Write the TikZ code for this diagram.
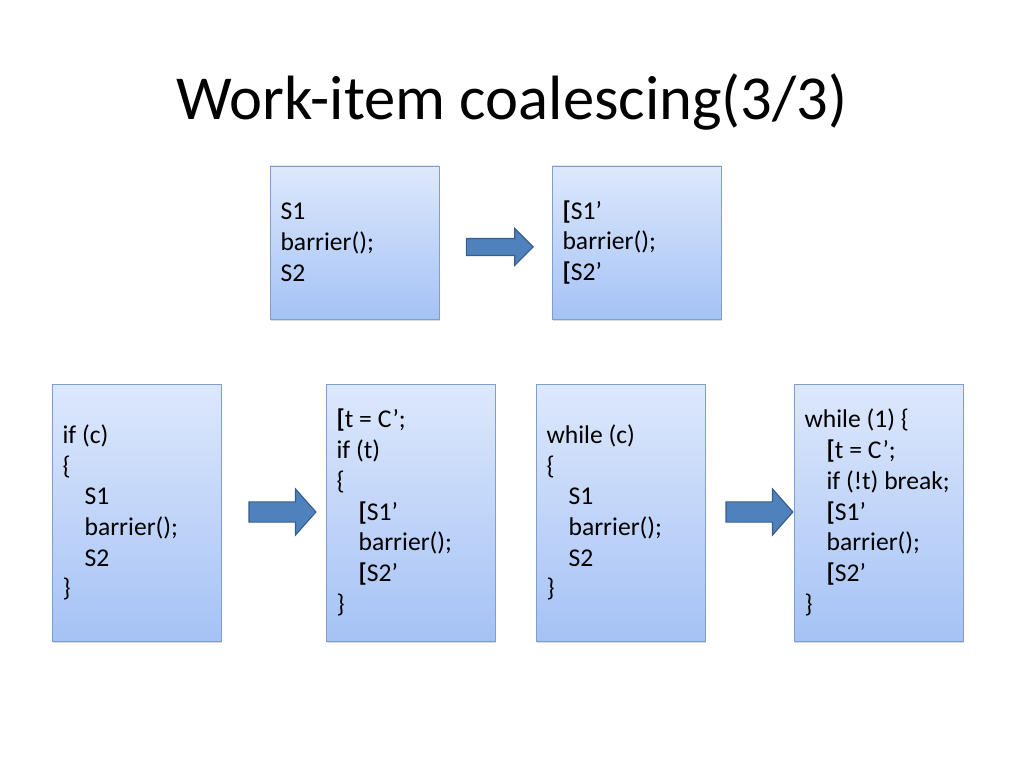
\documentclass[tikz,border=0pt]{standalone}
\usepackage{fontspec}
\setmainfont{Carlito}
\usetikzlibrary{shapes.arrows,shadows}
\definecolor{boxtop}{HTML}{DDE8FC}
\definecolor{boxbot}{HTML}{A5C2F5}
\definecolor{boxline}{HTML}{7F9FCB}
\definecolor{arrowfill}{HTML}{4F81BD}
\definecolor{arrowline}{HTML}{385D8A}
\newcommand{\ind}{\hspace*{15.5pt}}
\newcommand{\br}{\textbf{[}}

\begin{document}
\begin{tikzpicture}[x=0.703125pt,y=-0.703125pt,
    codebox/.style={draw=boxline, line width=0.6pt, top color=boxtop, bottom color=boxbot,
      inner xsep=7.4pt, text width=104pt, align=flush left,
      font=\fontsize{18}{21.6}\selectfont,
      execute at begin node={\spaceskip=0pt\xspaceskip=0pt\relax},
      drop shadow={shadow xshift=0.8pt, shadow yshift=-1.2pt, opacity=0.3}},
    shortbox/.style={codebox, minimum height=107.6pt},
    tallbox/.style={codebox, minimum height=180.7pt},
    blockarrow/.style={single arrow, draw=arrowline, fill=arrowfill, line width=0.8pt,
      inner xsep=0pt, minimum height=47pt},
    smallarrow/.style={blockarrow, inner ysep=5.6pt, single arrow head extend=7pt},
    bigarrow/.style={blockarrow, inner ysep=6.7pt, single arrow head extend=9.1pt,
      single arrow tip angle=97}]
    \useasboundingbox (0,0) rectangle (1024,768);
    \node (title) at (512,102) {\fontsize{44}{52}\selectfont Work-item coalescing(3/3)};
    % top row
    \node[shortbox] (simple) at (354.5,242.5) {S1\\ barrier();\\ S2};
    \node[shortbox] (simplenew) at (636.5,242.5) {\br S1’\\ barrier();\\ \br S2’};
    \node[smallarrow] (simplearrow) at (495.5,247) {};
    % bottom row
    \node[tallbox] (ifbox) at (136.5,512.5) {if (c)\\ \{\\ \ind S1\\ \ind barrier();\\ \ind S2\\ \}};
    \node[tallbox] (ifnew) at (410.5,512.5) {\br t = C’;\\ if (t)\\ \{\\ \ind\br S1’\\ \ind barrier();\\ \ind\br S2’\\ \}};
    \node[bigarrow] (ifarrow) at (278,512) {};
    \node[tallbox] (whilebox) at (620.5,512.5) {while (c)\\ \{\\ \ind S1\\ \ind barrier();\\ \ind S2\\ \}};
    \node[tallbox] (whilenew) at (878.5,512.5) {while (1) \{\\ \ind\br t = C’;\\ \ind if (!t) break;\\ \ind\br S1’\\ \ind barrier();\\ \ind\br S2’\\ \}};
    \node[bigarrow] (whilearrow) at (755,512) {};
\end{tikzpicture}
\end{document}
